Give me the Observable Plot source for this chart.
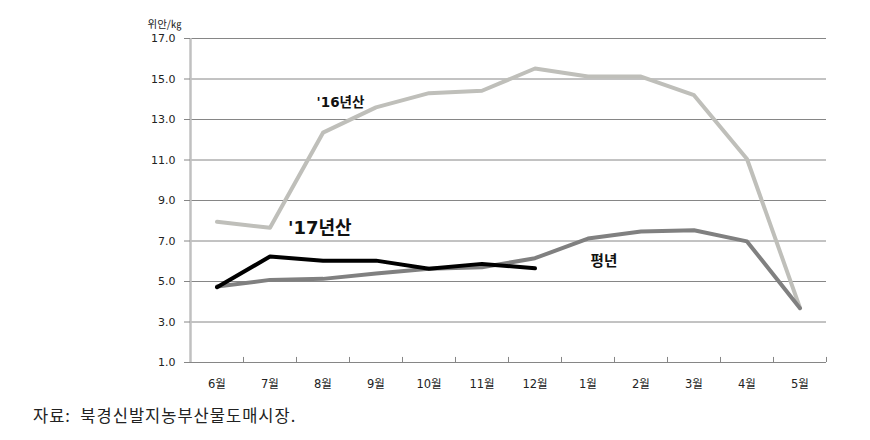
<!DOCTYPE html>
<html>
<head>
<meta charset="utf-8">
<script src="https://cdn.jsdelivr.net/npm/d3@7"></script>
<script src="https://cdn.jsdelivr.net/npm/@observablehq/plot@0.6"></script>
<style>
  html, body { margin: 0; padding: 0; background: #fff; }
  #chart { width: 870px; height: 400px; }
  #caption { font-family: "Noto Sans CJK KR", sans-serif; font-size: 16.5px; letter-spacing: 1px; color: #222; padding-left: 33px; line-height: 22px; margin-top: 4px; }
</style>
</head>
<body>
<div id="chart"></div>
<div id="caption">자료:&nbsp; 북경신발지농부산물도매시장.</div>
<script>
const months = ["6월","7월","8월","9월","10월","11월","12월","1월","2월","3월","4월","5월"];
const crop16 = [7.95, 7.65, 12.35, 13.6, 14.3, 14.42, 15.52, 15.12, 15.12, 14.2, 11.05, 3.7];
const crop17 = [4.72, 6.23, 6.03, 6.03, 5.63, 5.87, 5.65];
const normal = [4.75, 5.08, 5.13, 5.4, 5.63, 5.7, 6.15, 7.12, 7.47, 7.53, 6.98, 3.68];
const yTicks = [1, 3, 5, 7, 9, 11, 13, 15, 17];
const seriesNames = ["'16년산", "'17년산", "평년"];
const unitLabel = "위안/㎏";

const toRows = (vals) => vals.map((v, i) => ({x: i + 0.5, y: v}));

const chart = Plot.plot({
  width: 870,
  height: 400,
  marginLeft: 190,
  marginRight: 44,
  marginTop: 38,
  marginBottom: 38,
  x: {type: "linear", domain: [0, months.length]},
  y: {domain: [yTicks[0], yTicks[yTicks.length - 1]]},
  style: {fontFamily: "'DejaVu Sans', 'Noto Sans CJK KR', sans-serif", fontSize: "11px", color: "#222", background: "#fff"},
  marks: [
    Plot.gridY(yTicks.slice(1), {stroke: "#868686", strokeOpacity: 1}),
    Plot.ruleY([yTicks[0]], {stroke: "#868686", strokeWidth: 1.2}),
    Plot.ruleX(d3.range(1, months.length + 1), {y1: yTicks[0], y2: yTicks[0] + 0.25, stroke: "#868686"}),
    Plot.ruleX([0], {stroke: "#c0c0c0", strokeWidth: 2.5}),
    Plot.axisY({ticks: yTicks, tickFormat: d => d.toFixed(1), tickSize: 6, tickPadding: 9, stroke: "#868686", fill: "#222", label: null, fontSize: 11}),
    Plot.axisX({ticks: months.map((_, i) => i + 0.5), tickFormat: d => months[Math.floor(d)], tickSize: 0, tickPadding: 17, label: null, fill: "#222", fontSize: 11.5}),
    Plot.line(toRows(crop16), {x: "x", y: "y", stroke: "#bfbfba", strokeWidth: 4, strokeLinejoin: "round"}),
    Plot.line(toRows(normal), {x: "x", y: "y", stroke: "#808080", strokeWidth: 4, strokeLinejoin: "round"}),
    Plot.line(toRows(crop17), {x: "x", y: "y", stroke: "#000", strokeWidth: 4, strokeLinejoin: "round", strokeLinecap: "round"}),
    Plot.text([seriesNames[0]], {x: 2.83, y: 13.85, text: d => d, fontSize: 13.5, fontWeight: "bold", fill: "#111"}),
    Plot.text([seriesNames[1]], {x: 2.44, y: 7.62, text: d => d, fontSize: 18, fontWeight: "bold", fill: "#111"}),
    Plot.text([seriesNames[2]], {x: 7.8, y: 5.99, text: d => d, fontSize: 14.5, fontWeight: "bold", fill: "#111"}),
    Plot.text([unitLabel], {frameAnchor: "top-left", dx: -43, dy: -18, text: d => d, textAnchor: "start", fontSize: 10.5, fill: "#222", fontFamily: "'Noto Sans CJK KR', sans-serif"})
  ]
});
document.getElementById("chart").appendChild(chart);
</script>
</body>
</html>
